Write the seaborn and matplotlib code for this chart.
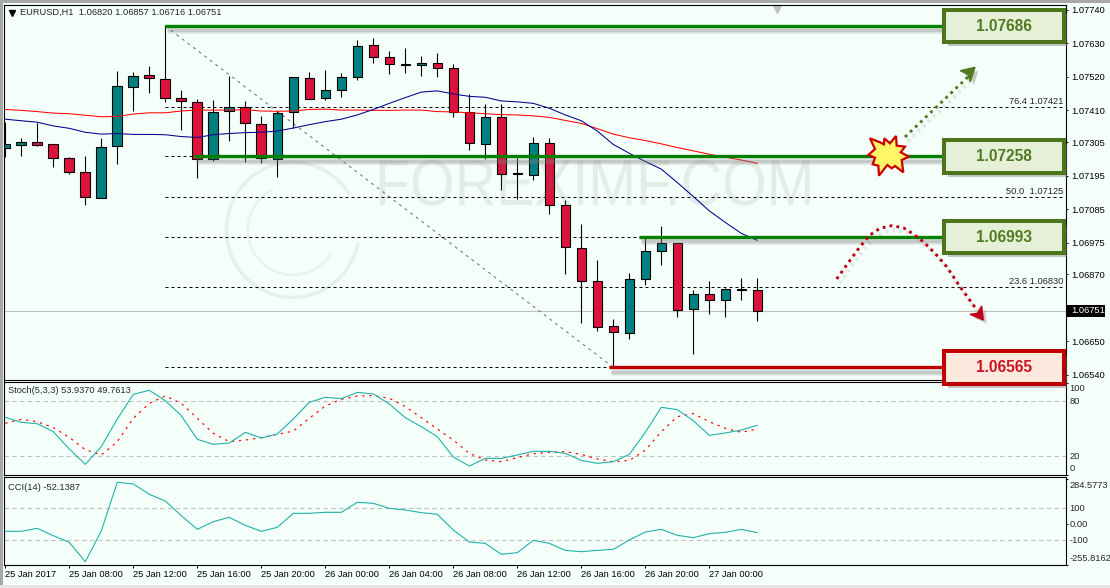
import numpy as np
import pandas as pd
import matplotlib
matplotlib.use("Agg")
import matplotlib.pyplot as plt
import matplotlib.patheffects as pe
from matplotlib.font_manager import FontProperties
from matplotlib.patches import Rectangle, Polygon, Arc, PathPatch
from matplotlib.textpath import TextPath
from matplotlib.transforms import Affine2D
import seaborn as sns

# ── data (prices in points, 1 point = 0.00001) ──────────────
opens = [107284, 107296, 107304, 107297, 107251, 107206, 107120, 107291, 107485, 107524, 107511, 107449,
         107435, 107248, 107406, 107419, 107363, 107248, 107403, 107514, 107449, 107475, 107518, 107623,
         107583, 107560, 107557, 107563, 107547, 107403, 107297, 107386, 107202, 107196, 107301, 107097,
         106956, 106848, 106700, 106677, 106854, 106946, 106972, 106756, 106805, 106785, 106821, 106820]
highs = [107370, 107317, 107366, 107297, 107256, 107259, 107317, 107538, 107534, 107555, 107688, 107475,
         107445, 107442, 107521, 107439, 107389, 107406, 107518, 107534, 107540, 107531, 107639, 107646,
         107603, 107613, 107586, 107596, 107560, 107462, 107429, 107429, 107254, 107320, 107317, 107115,
         107036, 106917, 106723, 106874, 106989, 107029, 106972, 106819, 106849, 106825, 106857, 106857]
lows = [107257, 107260, 107293, 107224, 107201, 107099, 107120, 107234, 107407, 107467, 107437, 107346,
        107188, 107243, 107310, 107239, 107236, 107191, 107350, 107445, 107443, 107453, 107510, 107565,
        107528, 107533, 107523, 107520, 107388, 107280, 107250, 107149, 107117, 107181, 107068, 106873,
        106712, 106686, 106565, 106659, 106837, 106902, 106732, 106610, 106741, 106732, 106785, 106716]
closes = [107297, 107304, 107296, 107251, 107206, 107123, 107288, 107488, 107521, 107514, 107449, 107439,
          107248, 107403, 107419, 107366, 107251, 107399, 107518, 107445, 107475, 107518, 107619, 107583,
          107560, 107559, 107563, 107547, 107403, 107301, 107386, 107199, 107200, 107301, 107097, 106959,
          106848, 106699, 106680, 106854, 106946, 106972, 106752, 106805, 106785, 106821, 106819, 106751]
ma_blue = [107380, 107375, 107370, 107358, 107350, 107337, 107331, 107333, 107330, 107330, 107329, 107323,
           107320, 107329, 107333, 107336, 107337, 107341, 107351, 107362, 107372, 107380, 107394, 107412,
           107432, 107451, 107469, 107473, 107463, 107455, 107452, 107440, 107437, 107432, 107416, 107394,
           107375, 107341, 107297, 107268, 107241, 107216, 107172, 107126, 107079, 107041, 107005, 106982]
ma_red = [107412, 107409, 107405, 107400, 107398, 107393, 107388, 107389, 107397, 107401, 107401, 107407,
          107410, 107410, 107410, 107411, 107407, 107406, 107407, 107412, 107413, 107410, 107410, 107409,
          107409, 107410, 107410, 107405, 107404, 107401, 107398, 107395, 107394, 107391, 107386, 107376,
          107366, 107349, 107331, 107319, 107310, 107299, 107287, 107276, 107265, 107255, 107246, 107235]
stoch_main = [62.5, 57.1, 55.6, 46.9, 28.0, 11.3, 30.6, 60.7, 87.6, 92.0, 80.7, 64.4,
              38.6, 33.1, 34.6, 46.2, 40.0, 44.4, 60.7, 78.9, 84.4, 82.9, 89.8, 88.0,
              77.1, 62.2, 52.4, 41.5, 19.3, 9.5, 17.8, 17.8, 21.5, 25.5, 25.5, 23.3,
              15.6, 12.4, 14.2, 22.2, 46.2, 73.5, 70.9, 58.9, 42.9, 45.5, 48.7, 53.9]
stoch_signal = [56.0, 60.4, 57.8, 51.3, 40.7, 27.3, 21.5, 36.0, 61.5, 77.8, 85.8, 77.8,
                61.5, 45.1, 36.0, 37.8, 40.4, 44.0, 47.6, 61.5, 74.9, 82.2, 85.8, 86.2,
                83.3, 74.2, 62.2, 49.8, 37.8, 23.3, 16.0, 14.2, 18.6, 22.9, 24.4, 25.1,
                22.2, 17.1, 14.2, 15.6, 26.9, 46.9, 63.3, 66.6, 57.8, 50.6, 46.2, 49.8]
cci = [-43.7, -43.7, -25.0, -70.8, -112.5, -233.3, -41.7, 262.5, 252.0, 187.5, 145.8, 54.2,
       -31.2, 16.7, 43.7, -6.2, -43.7, -18.7, 68.7, 68.7, 75.0, 75.0, 137.5, 131.2,
       100.0, 89.6, 72.9, 62.5, -35.4, -110.4, -118.7, -187.5, -177.1, -100.0, -118.7, -162.5,
       -170.8, -162.5, -156.2, -97.9, -47.9, -31.2, -68.7, -83.3, -58.3, -50.0, -31.2, -52.1]

fib_levels = [1.07421, 1.07258, 1.07125, 1.06993, 1.06830, 1.06565]
fib_labels = {1.07421: "76.4 1.07421", 1.07125: "50.0  1.07125", 1.06830: "23.6 1.06830"}
price_ticks = [1.07740, 1.07630, 1.07520, 1.07410, 1.07305, 1.07195, 1.07085, 1.06975, 1.06870, 1.06650, 1.06540]
time_labels = ["25 Jan 2017", "25 Jan 08:00", "25 Jan 12:00", "25 Jan 16:00", "25 Jan 20:00", "26 Jan 00:00",
               "26 Jan 04:00", "26 Jan 08:00", "26 Jan 12:00", "26 Jan 16:00", "26 Jan 20:00", "27 Jan 00:00"]
# level, bar where the line starts, colour
key_levels = [(1.07686, 10, "#008000"), (1.07258, 11.8, "#008000"), (1.06993, 39.6, "#008000"), (1.06565, 37.7, "#C00000")]

LAST = 1.06751
BG = "#F5FFFA"
TEAL = "#008080"
RED = "#DC143C"
W, H = 1110, 588
FONT = "Liberation Sans"

sns.set_style("white")
plt.rcParams["font.family"] = [FONT, "DejaVu Sans"]
plt.rcParams["font.size"] = 6.7
plt.rcParams["axes.linewidth"] = 0.8
plt.rcParams["xtick.major.size"] = 2.2
plt.rcParams["ytick.major.size"] = 1.6
plt.rcParams["xtick.major.width"] = 0.7
plt.rcParams["ytick.major.width"] = 0.7
plt.rcParams["xtick.bottom"] = True
plt.rcParams["ytick.left"] = False
plt.rcParams["ytick.right"] = True


def panel(top, bottom, left=4, right=1066):
    ax = fig.add_axes([left / W, 1 - bottom / H, (right - left) / W, (bottom - top) / H])
    ax.set_facecolor(BG)
    ax.set_xlim(-0.08, 66.29)
    ax.yaxis.tick_right()
    ax.tick_params(axis="y", pad=2.2, labelsize=6.7, colors="black")
    ax.tick_params(axis="x", bottom=False, labelbottom=False)
    for s in ax.spines.values():
        s.set_color("black")
    return ax


fig = plt.figure(figsize=(W / 100, H / 100), dpi=100, facecolor=BG)
fig.add_artist(Rectangle((0, 0), 3 / W, 1, transform=fig.transFigure, color="#A8A8A8", lw=0))
fig.add_artist(Rectangle((0, 1 - 3 / H), 1, 3 / H, transform=fig.transFigure, color="#A8A8A8", lw=0))
fig.add_artist(Rectangle((0, 0), 1, 3 / H, transform=fig.transFigure, color="#E4E4E4", lw=0))

ax = panel(4.5, 380)
ax2 = panel(381.5, 475)
ax3 = panel(477, 565)
ax.set_zorder(5)  # boxes hang over the stochastic panel

# ── 1. Main chart ───────────────────────────────────────────
df = pd.DataFrame({"o": opens, "h": highs, "l": lows, "c": closes, "blue": ma_blue, "red": ma_red}) / 1e5
df["i"] = np.arange(len(df))
up = df["c"] >= df["o"]
body_colors = np.where(up, TEAL, RED)

# watermark squeezed sideways, no narrow font is installed
mark = TextPath((0, 0), "FOREXIMF.COM", size=65, prop=FontProperties(family=FONT))
squeeze = 430 / mark.get_extents().width
ax.add_patch(PathPatch(mark, facecolor="#6E7A74", edgecolor="none", alpha=0.13, zorder=2.6, clip_on=False,
                       transform=Affine2D().scale(squeeze, 1).translate(375, H - 205)))
ax.add_patch(Arc((0.272, 0.40), 0.125, 0.36, transform=ax.transAxes, theta1=60, theta2=330,
                 color="#6E7A74", alpha=0.11, lw=2.5, zorder=1))
ax.add_patch(Arc((0.272, 0.40), 0.085, 0.24, transform=ax.transAxes, theta1=100, theta2=300,
                 color="#6E7A74", alpha=0.09, lw=2, zorder=1))

ax.axhline(LAST, color="#C0C0C0", lw=0.8, zorder=1)
ax.hlines(fib_levels, 10, 66.1, color="black", lw=0.72, linestyles=[(0, (3, 3))], zorder=1.2)
ax.plot([10, 38], [1.07686, 1.06565], color="#707070", lw=0.72, ls=(0, (3, 4)), zorder=1.3)

ax.vlines(df["i"], df["l"], df["h"], color="black", lw=0.8, zorder=2)
ax.bar(df["i"], (df["c"] - df["o"]).abs(), bottom=df[["o", "c"]].min(axis=1), width=0.6,
       color=body_colors, edgecolor="black", linewidth=0.8, zorder=2.2)

sns.lineplot(data=df, x="i", y="red", color="#FF0000", lw=0.75, ax=ax, errorbar=None, zorder=3)
sns.lineplot(data=df, x="i", y="blue", color="#00008B", lw=0.75, ax=ax, errorbar=None, zorder=3)

shadow = [pe.SimpleLineShadow(offset=(1.5, -3.2), shadow_color="#808080", alpha=0.16, linewidth=5),
          pe.SimpleLineShadow(offset=(1.5, -3.0), shadow_color="#808080", alpha=0.3, linewidth=2.5),
          pe.Normal()]
for level, start, col in key_levels:
    ax.plot([start, 58.8], [level, level], color=col, lw=2.4, solid_capstyle="butt",
            path_effects=shadow, zorder=4)

box_h = 32.7 / 30450
box_shadow = [pe.SimplePatchShadow(offset=(2.5, -2.8), shadow_rgbFace="#808080", alpha=0.45), pe.Normal()]
for level, start, col in key_levels:
    is_red = col != "#008000"
    ax.add_patch(Rectangle((58.69, level - box_h / 2), 7.47, box_h,
                           facecolor="#FDE9DD" if is_red else "#E5F0D7",
                           edgecolor="#C00000" if is_red else "#4C751C",
                           lw=2.9, clip_on=False, path_effects=box_shadow, zorder=6))
    ax.text(62.43, level, f"{level:.5f}", color="#CC1122" if is_red else "#4F7B21", fontsize=11.2,
            fontweight="bold", ha="center", va="center", clip_on=False, zorder=7)

for level, txt in fib_labels.items():
    ax.text(66.1, level + 0.00002, txt, ha="right", va="bottom", fontsize=6.7, zorder=3)

ax.set_ylim(1.065235, 1.077567)
ax.set_yticks(price_ticks)
ax.set_yticklabels([f"{p:.5f}" for p in price_ticks])
ax.set_xlabel("")
ax.set_ylabel("")
ax.add_patch(Rectangle((1.0009, LAST - 6 / 30450), 0.0355, 12 / 30450, transform=ax.get_yaxis_transform(),
                       facecolor="black", lw=0, clip_on=False, zorder=6.5))
ax.text(1.0054, LAST, f"{LAST:.5f}", transform=ax.get_yaxis_transform(), color="white", va="center", ha="left",
        fontsize=6.7, clip_on=False, zorder=7)
ax.plot([48.26], [0.988], transform=ax.get_xaxis_transform(), marker="v", ms=6, color="#C0C0C0", clip_on=False)

# ── 2. Stochastic ───────────────────────────────────────────
sns.lineplot(x=df["i"], y=stoch_signal, color="#FF0000", lw=0.85, linestyle=(0, (2, 4)), ax=ax2, errorbar=None)
sns.lineplot(x=df["i"], y=stoch_main, color="#20B2AA", lw=0.8, ax=ax2, errorbar=None)
for lev in [80, 20]:
    ax2.axhline(lev, color="#C0C0C0", lw=0.8, ls=(0, (4, 3)), zorder=1)
ax2.set_ylim(-0.3, 101.6)
ax2.set_yticks([100, 0])
ax2.set_yticklabels([])
ax2.set_ylabel("")
ax2.set_xlabel("")
for val, txt in [(94.2, "100"), (80, "80"), (20, "20"), (6.5, "0")]:
    ax2.text(1.003, val, txt, transform=ax2.get_yaxis_transform(), va="center", ha="left", fontsize=6.7, clip_on=False)
ax2.text(0.004, 0.905, "Stoch(5,3,3) 53.9370 49.7613", transform=ax2.transAxes, fontsize=6.7, va="center")

# ── 3. CCI ──────────────────────────────────────────────────
sns.lineplot(x=df["i"], y=cci, color="#20B2AA", lw=0.8, ax=ax3, errorbar=None)
for lev in [100, -100]:
    ax3.axhline(lev, color="#C0C0C0", lw=0.8, ls=(0, (4, 3)), zorder=1)
ax3.set_ylim(-254, 295.6)
ax3.set_yticks([284.5773, 0, -253])
ax3.set_yticklabels([])
ax3.set_ylabel("")
ax3.set_xlabel("")
for val, txt in [(245.6, "284.5773"), (100, "100"), (0, "0.00"), (-100, "-100"), (-215, "-255.8162")]:
    ax3.text(1.003, val, txt, transform=ax3.get_yaxis_transform(), va="center", ha="left", fontsize=6.7, clip_on=False)
ax3.text(0.004, 0.885, "CCI(14) -52.1387", transform=ax3.transAxes, fontsize=6.7, va="center")

ticks = np.arange(len(time_labels)) * 4
ax3.tick_params(axis="x", bottom=True, labelbottom=True, pad=1.5, labelsize=6.7, colors="black")
ax3.set_xticks(ticks)
ax3.set_xticklabels(time_labels, ha="left")

# ── 4. Hand-drawn annotations, in picture pixels ────────────
over = fig.add_axes([0, 0, 1, 1], zorder=10)
over.set_xlim(0, W)
over.set_ylim(H, 0)
over.axis("off")
over.patch.set_alpha(0)

over.text(20, 12.5, "EURUSD,H1  1.06820 1.06857 1.06716 1.06751", fontsize=6.7, va="center", ha="left")
over.plot([11.5], [12.5], marker="v", ms=4.2, color="black")

dots = dict(lw=2.1, ls=(0, (1, 1.4)), dash_capstyle="butt",
            path_effects=[pe.SimpleLineShadow(offset=(2, -3), shadow_color="#808080", alpha=0.18, linewidth=3), pe.Normal()])
over.plot([905, 970], [137, 75], color="#4F7B21", **dots)
over.add_patch(Polygon([(975, 67.3), (960.3, 70.7), (967.7, 74.3), (970.3, 81.7)], color="#4F7B21",
                       path_effects=[pe.SimplePatchShadow(offset=(2.5, -2.5), shadow_rgbFace="#808080", alpha=0.4), pe.Normal()]))

curve_x = [836.7, 848.3, 860, 870, 880, 891.7, 903.3, 913.3, 923.3, 935, 946.7, 960, 975]
curve_y = [279, 262.7, 246.7, 235, 228.3, 225.7, 227.7, 234, 241.7, 253.3, 266.7, 286.7, 307.3]
over.plot(curve_x, curve_y, color="#C00018", **dots)
over.add_patch(Polygon([(983.3, 320), (970, 314.3), (977.3, 313.3), (981.7, 306)], color="#C00018",
                       path_effects=[pe.SimplePatchShadow(offset=(2.5, -2.5), shadow_rgbFace="#808080", alpha=0.4), pe.Normal()]))

star = [(30, 40), (60, 52), (72, 58), (73, 40), (90, 55), (108, 33), (110, 62), (135, 65), (122, 82), (147, 95),
        (125, 105), (130, 142), (105, 123), (95, 130), (82, 120), (57, 152), (55, 122), (38, 118), (45, 98),
        (25, 90), (45, 72)]
over.add_patch(Polygon([(860 + x / 3, 125 + y / 3) for x, y in star], facecolor="#FFF566", edgecolor="#CC0000", lw=1.6))

plt.savefig("out.png", dpi=100, facecolor=BG)
print("saved out.png")
